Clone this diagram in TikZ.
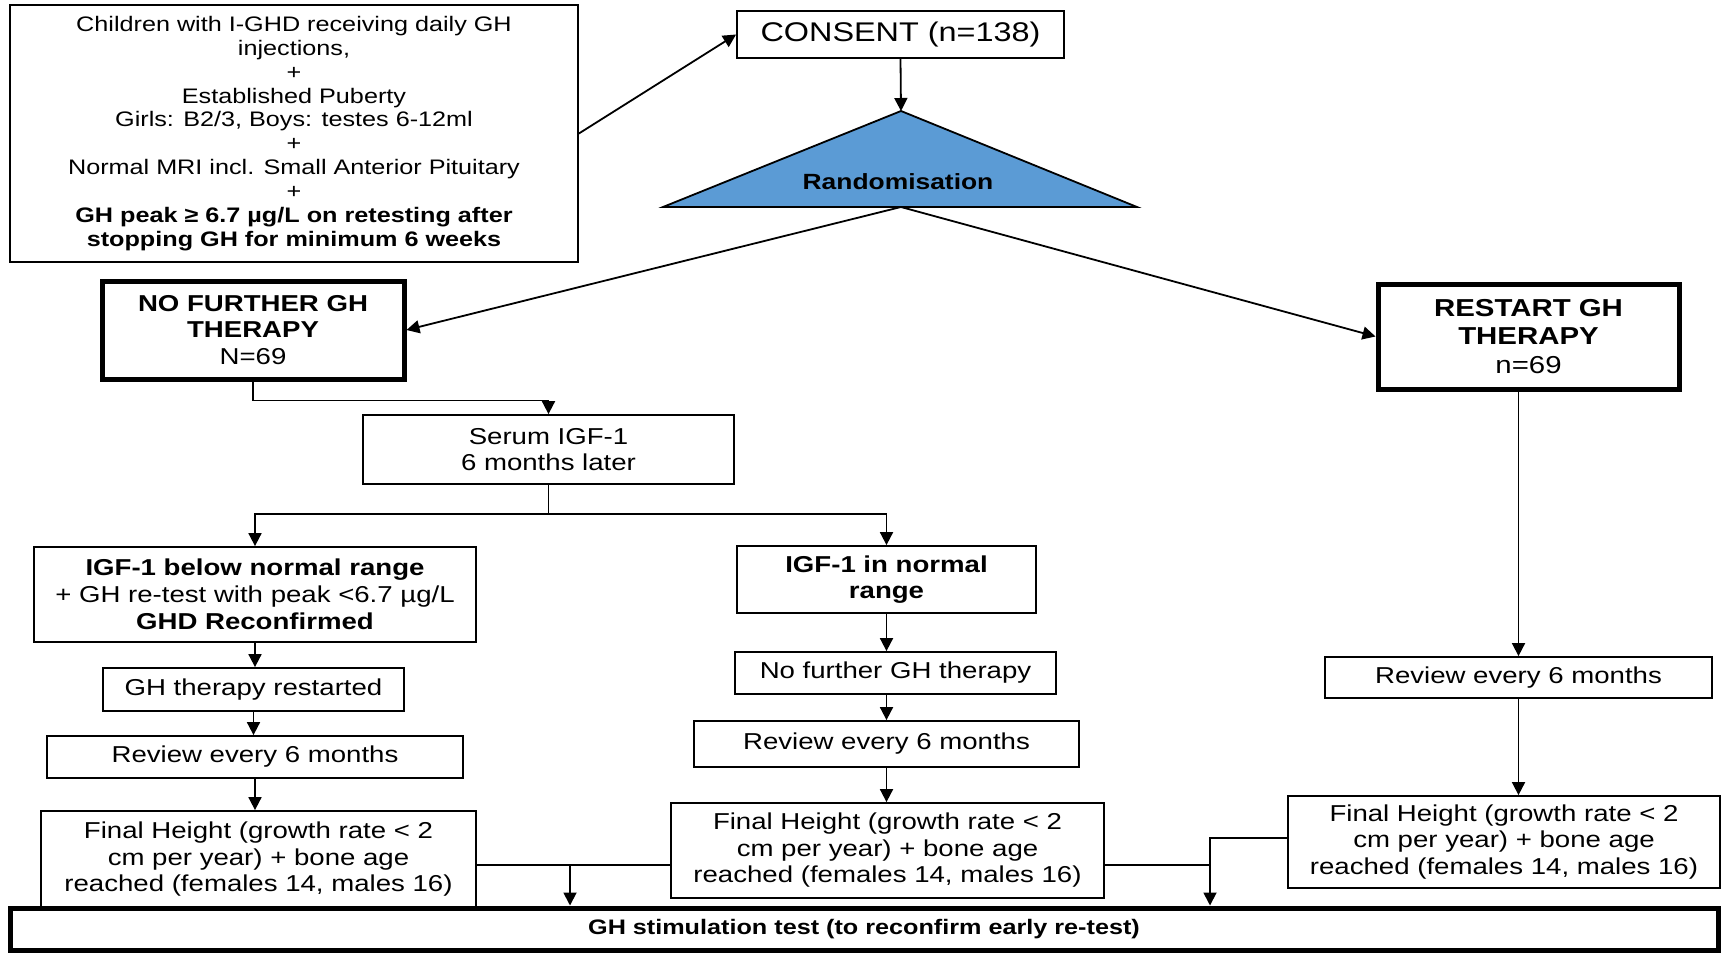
\documentclass[tikz,border=0pt]{standalone}
\usepackage{fontspec}
\setmainfont{Liberation Sans}[FakeStretch=1.2]
\usetikzlibrary{arrows.meta}
\definecolor{randblue}{RGB}{91,155,213}
\begin{document}
\begin{tikzpicture}[x=1pt,y=-1pt,
  box/.style={draw, line width=1.8pt, align=center, inner sep=0pt},
  thickbox/.style={box, line width=5pt},
  arr/.style={line width=1.8pt, -{Triangle[length=13pt,width=13pt]}},
  conn/.style={line width=1.8pt},
  txt/.style={font=\fontsize{23}{26.5}\selectfont}]
\useasboundingbox (0,0) rectangle (1723,953);

\node[box, minimum width=568pt, minimum height=257pt, font=\fontsize{21}{23.9}\selectfont] (elig) at (294,133.5)
  {Children with I-GHD receiving daily GH\\ injections,\\ +\\ Established Puberty\\ Girls: B2/3, Boys: testes 6-12ml\\ +\\ Normal MRI incl. Small Anterior Pituitary\\ +\\ \textbf{GH peak ≥ 6.7 µg/L on retesting after}\\ \textbf{stopping GH for minimum 6 weeks}};

\node[box, minimum width=327pt, minimum height=47pt, font=\fontsize{27}{30}\selectfont] (consent) at (900.5,34.5) {CONSENT (n=138)};

\coordinate (apex) at (901,111);
\coordinate (baseL) at (663,207);
\coordinate (baseR) at (1137,207);
\coordinate (baseM) at (901,207);
\filldraw[fill=randblue, line width=1.8pt, line join=miter] (apex) -- (baseR) -- (baseL) -- cycle;
\node[font=\bfseries\fontsize{22}{26}\selectfont] (rand) at (898,182) {Randomisation};

\node[thickbox, minimum width=302pt, minimum height=98pt, font=\fontsize{23}{26.4}\selectfont] (nofurther) at (253,330)
  {\textbf{NO FURTHER GH}\\ \textbf{THERAPY}\\ N=69};
\node[thickbox, minimum width=301pt, minimum height=105pt, font=\fontsize{24.5}{28.6}\selectfont] (restart) at (1528.5,336.5)
  {\textbf{RESTART GH}\\ \textbf{THERAPY}\\ n=69};

\node[box, txt, minimum width=371pt, minimum height=69pt] (serum) at (548.5,449.5) {Serum IGF-1\\ 6 months later};

\node[box, minimum width=442pt, minimum height=95pt, font=\fontsize{23}{26.9}\selectfont] (below) at (255,594.5)
  {\textbf{IGF-1 below normal range}\\ + GH re-test with peak <6.7 µg/L\\ \textbf{GHD Reconfirmed}};
\node[box, txt, minimum width=299pt, minimum height=67pt] (normal) at (886.5,579.5) {\textbf{IGF-1 in normal}\\ \textbf{range}};

\node[box, txt, minimum width=301pt, minimum height=43pt] (restarted) at (253.5,689.5) {GH therapy restarted};
\node[box, txt, minimum width=416pt, minimum height=42pt] (reviewL) at (255,757) {Review every 6 months};
\node[box, txt, minimum width=435pt, minimum height=97pt] (finalL) at (258.5,859.5) {Final Height (growth rate < 2\\ cm per year) + bone age\\ reached (females 14, males 16)};

\node[box, txt, minimum width=321pt, minimum height=42pt] (nofur2) at (895.5,673) {No further GH therapy};
\node[box, txt, minimum width=385pt, minimum height=46pt] (reviewM) at (886.5,744) {Review every 6 months};
\node[box, txt, minimum width=433pt, minimum height=95pt] (finalM) at (887.5,850.5) {Final Height (growth rate < 2\\ cm per year) + bone age\\ reached (females 14, males 16)};

\node[box, txt, minimum width=387pt, minimum height=41pt] (reviewR) at (1518.5,677.5) {Review every 6 months};
\node[box, txt, minimum width=432pt, minimum height=92pt] (finalR) at (1504,842) {Final Height (growth rate < 2\\ cm per year) + bone age\\ reached (females 14, males 16)};

\node[thickbox, minimum width=1708pt, minimum height=42pt, font=\bfseries\fontsize{21}{24}\selectfont] (stim) at (864,929) {GH stimulation test (to reconfirm early re-test)};

% connectors
\draw[arr] (elig.east) -- (consent.west);
\draw[arr] (consent.south) -- (apex);
\draw[arr] (baseM) -- (nofurther.east);
\draw[arr] (baseM) -- (restart.west);
\draw[arr] (nofurther.south) -- ++(0,19) -| (serum.north);
\coordinate (split) at (548.5,514);
\draw[conn] (serum.south) -- (split);
\draw[arr] (split) -| (below.north);
\draw[arr] (split) -| (normal.north);
\draw[arr] (below.south) -- (below.south |- restarted.north);
\draw[arr] (restarted.south) -- (restarted.south |- reviewL.north);
\draw[arr] (reviewL.south) -- (reviewL.south |- finalL.north);
\draw[arr] (normal.south) -- (normal.south |- nofur2.north);
\draw[arr] (normal.south |- nofur2.south) -- (normal.south |- reviewM.north);
\draw[arr] (normal.south |- reviewM.south) -- (normal.south |- finalM.north);
\draw[arr] (reviewR.north |- restart.south) -- (reviewR.north);
\draw[arr] (reviewR.south) -- (reviewR.south |- finalR.north);

\coordinate (jL) at (570,865);
\coordinate (jR) at (1210,865);
\coordinate (jR2) at (1210,838);
\draw[conn] (finalL.east |- jL) -- (finalM.west |- jL);
\draw[arr] (jL) -- (jL |- stim.north);
\draw[conn] (finalM.east |- jR) -- (jR);
\draw[arr] (finalR.west |- jR2) -- (jR2) -- (jR2 |- stim.north);
\end{tikzpicture}
\end{document}
